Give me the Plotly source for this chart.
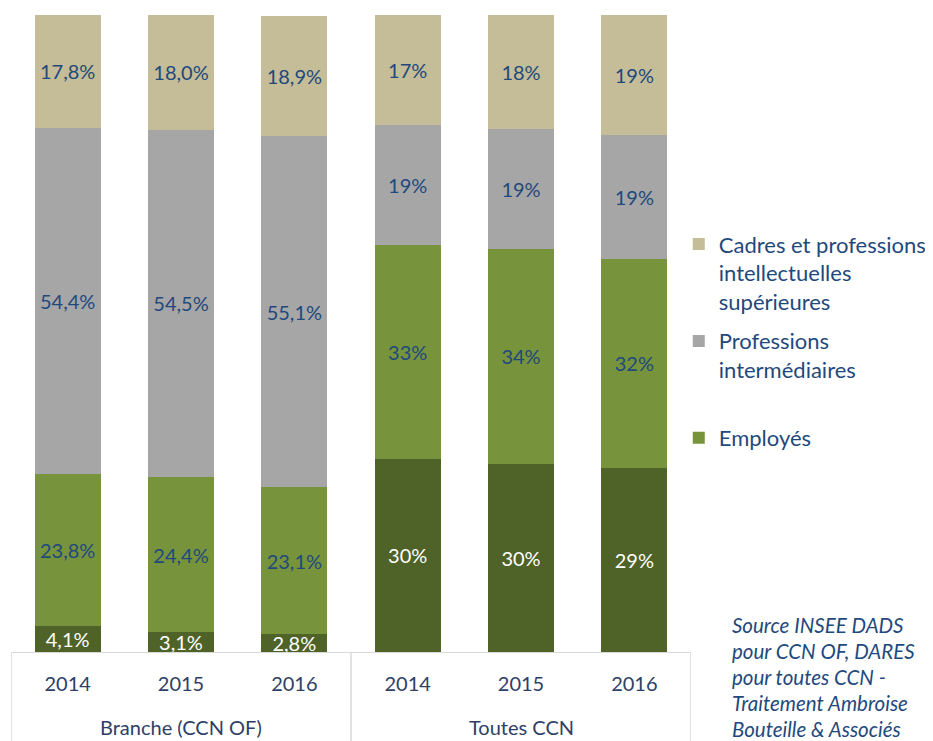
import plotly.graph_objects as go

# ---- data ----
x_pos = [0, 1, 2, 3, 4, 5]
years = ["2014", "2015", "2016", "2014", "2015", "2016"]
groups = ["Branche (CCN OF)", "Toutes CCN"]
group_centers = [1, 4]

ouvriers = [4.1, 3.1, 2.8, 30.3, 29.5, 28.9]
employes = [23.8, 24.4, 23.1, 33.6, 33.8, 32.8]
prof_inter = [54.4, 54.5, 55.1, 18.8, 18.8, 19.5]
cadres = [17.8, 18.0, 18.9, 17.3, 17.9, 18.8]

ouvriers_lbl = ["4,1%", "3,1%", "2,8%", "30%", "30%", "29%"]
employes_lbl = ["23,8%", "24,4%", "23,1%", "33%", "34%", "32%"]
prof_inter_lbl = ["54,4%", "54,5%", "55,1%", "19%", "19%", "19%"]
cadres_lbl = ["17,8%", "18,0%", "18,9%", "17%", "18%", "19%"]

source_lines = ["Source INSEE DADS", "pour CCN OF, DARES", "pour toutes CCN -",
                "Traitement Ambroise", "Bouteille & Associés"]

FONT = "Lato"
DARK_BLUE = "#1F497D"
AXIS_TXT = "#2E4066"

fig = go.Figure()

def add(name, vals, labels, color, txtcolor, rank, show=True, legend_name=None):
    fig.add_trace(go.Bar(
        x=x_pos, y=vals, name=legend_name or name, legendgroup=name,
        legendrank=rank,
        marker=dict(color=color, line=dict(width=0)),
        text=labels, textposition="inside", insidetextanchor="middle",
        textangle=0, constraintext="none",
        textfont=dict(family=FONT, size=20, color=txtcolor),
        showlegend=show, hoverinfo="skip",
    ))

add("Ouvriers", ouvriers, ouvriers_lbl, "#4F6228", "#FFFFFF", 4, show=False)
add("Employés", employes, employes_lbl, "#77933C", DARK_BLUE, 3, legend_name="Employés")
add("PI", prof_inter, prof_inter_lbl, "#A6A6A6", DARK_BLUE, 2,
    legend_name="Professions<br>intermédiaires<br>\u00a0")
add("Cadres", cadres, cadres_lbl, "#C4BD97", DARK_BLUE, 1,
    legend_name="Cadres et professions<br>intellectuelles<br>supérieures")

fig.update_layout(
    width=933, height=741,
    barmode="stack", bargap=0.42,
    margin=dict(l=3, r=250, t=7, b=97),
    paper_bgcolor="white", plot_bgcolor="white",
    font=dict(family=FONT, size=20, color=DARK_BLUE),
    uniformtext=dict(mode=False),
    legend=dict(
        x=0.982, xanchor="left", y=0.673, yanchor="top",
        traceorder="grouped", valign="top", tracegroupgap=8,
        font=dict(family=FONT, size=22, color=DARK_BLUE),
        bgcolor="rgba(0,0,0,0)", itemwidth=30,
    ),
    xaxis=dict(
        range=[-0.5, 5.5], tickmode="array", tickvals=x_pos, ticktext=years,
        showgrid=False, zeroline=False, showline=True, linecolor="#D9D9D9",
        linewidth=1, ticks="", tickfont=dict(family=FONT, size=20, color=AXIS_TXT),
        ticklabelstandoff=14,
    ),
    yaxis=dict(range=[0, 100], visible=False, showgrid=False),
)

# group labels
for gx, gname in zip(group_centers, groups):
    fig.add_annotation(x=gx, xref="x", y=-0.118, yref="paper", text=gname,
                       showarrow=False, yanchor="middle",
                       font=dict(family=FONT, size=20, color=AXIS_TXT))

# axis box separators
for bx in [-0.5, 2.5, 5.5]:
    fig.add_shape(type="line", xref="x", yref="paper", x0=bx, x1=bx, y0=0, y1=-0.2,
                  line=dict(color="#D9D9D9", width=1.5))

# source note, one line per annotation for exact spacing
for i, line in enumerate(source_lines):
    fig.add_annotation(
        x=1.057, xref="paper", y=(652 - 625 - 26 * i) / 637.0, yref="paper",
        xanchor="left", yanchor="middle", align="left", showarrow=False,
        text="<i>%s</i>" % line,
        font=dict(family=FONT, size=20.5, color=DARK_BLUE),
    )

fig.write_html("out.html")
